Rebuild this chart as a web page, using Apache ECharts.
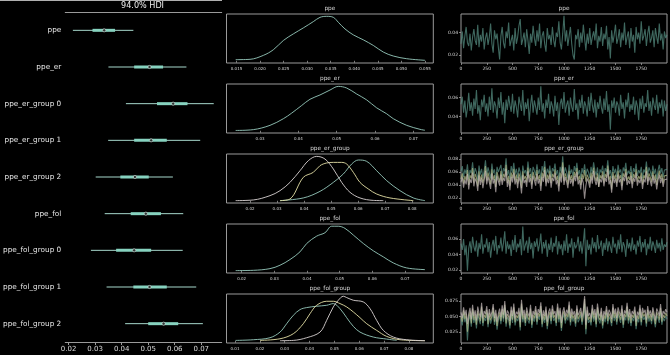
<!DOCTYPE html>
<html><head><meta charset="utf-8">
<script src="https://cdn.jsdelivr.net/npm/echarts@6/dist/echarts.min.js"></script>
<style>html,body{margin:0;padding:0;background:#000}#c{width:670px;height:355px}</style>
</head><body><div id="c"></div>
<script>
// ---------- forest plot data ----------
const forestLabels = ['ppe','ppe_er','ppe_er_group 0','ppe_er_group 1','ppe_er_group 2','ppe_fol','ppe_fol_group 0','ppe_fol_group 1','ppe_fol_group 2'];
const hdiLow   = [0.0216,0.0350,0.0416,0.0349,0.0302,0.0336,0.0284,0.0343,0.0413];
const hdiHigh  = [0.0444,0.0644,0.0747,0.0696,0.0593,0.0632,0.0630,0.0681,0.0706];
const quartLow = [0.0290,0.0447,0.0533,0.0447,0.0395,0.0434,0.0379,0.0444,0.0500];
const quartHigh= [0.0375,0.0556,0.0648,0.0570,0.0502,0.0548,0.0511,0.0570,0.0613];
const medians  = [0.0334,0.0505,0.0594,0.0511,0.0450,0.0491,0.0447,0.0505,0.0558];
const forestTicks = ['0.02','0.03','0.04','0.05','0.06','0.07'];

// ---------- density (KDE) data ----------
const densTitles = ['ppe','ppe_er','ppe_er_group','ppe_fol','ppe_fol_group'];
const kdePpeX = [0.01483,0.01787,0.02070,0.02282,0.02494,0.02706,0.02918,0.03130,0.03272,0.03413,0.03555,0.03661,0.03802,0.03979,0.04191,0.04404,0.04616,0.04828,0.05111,0.05500];
const kdePpeY = [2.0,2.6,9.7,19.8,36.4,48.3,59.0,70.3,78.0,79.8,78.0,69.1,57.2,46.5,37.6,27.5,15.6,8.5,3.7,0.8];
const kdeErX = [0.02364,0.02825,0.03260,0.03608,0.03825,0.04086,0.04303,0.04564,0.04825,0.05042,0.05260,0.05521,0.05782,0.06043,0.06303,0.06477,0.06825,0.07173,0.07303];
const kdeErY = [0.4,1.4,6.7,14.9,21.8,31.2,38.9,44.2,50.3,54.8,52.8,45.4,38.1,28.3,21.0,14.9,6.7,1.8,0.6];
const kdeErG0X = [0.03109,0.03972,0.04589,0.05082,0.05452,0.05760,0.06007,0.06315,0.06685,0.07055,0.07548,0.08041,0.08473];
const kdeErG0Y = [0.2,3.8,12.7,24.8,36.1,49.5,54.9,53.1,40.5,27.1,13.6,3.8,0.2];
const kdeErG1X = [0.03109,0.03479,0.03972,0.04342,0.04589,0.04835,0.05082,0.05390,0.05575,0.05822,0.06068,0.06377,0.06685,0.07178,0.08041];
const kdeErG1Y = [0.2,2.4,31.6,38.3,47.3,50.9,51.7,51.7,49.5,38.3,24.8,15.9,9.1,3.8,0.2];
const kdeErG2X = [0.01469,0.02123,0.02739,0.03109,0.03479,0.03849,0.04157,0.04465,0.04774,0.05082,0.05390,0.05699,0.06068,0.06562,0.06931];
const kdeErG2Y = [0.2,1.1,6.9,13.6,24.8,40.5,54.0,59.8,56.2,42.8,24.8,11.4,3.8,0.5,0.2];
const kdeFolX = [0.01816,0.02357,0.02867,0.03173,0.03479,0.03785,0.03990,0.04296,0.04551,0.04755,0.04959,0.05163,0.05418,0.05725,0.06031,0.06337,0.06643,0.07052,0.07613];
const kdeFolY = [0.2,0.5,2.4,6.2,12.6,21.2,30.6,38.9,42.7,50.0,50.0,47.6,40.1,30.6,22.4,15.6,8.8,3.2,1.3];
const kdeFolG0X = [0.01027,0.01738,0.02409,0.02811,0.03079,0.03347,0.03616,0.03884,0.04287,0.04689,0.04957,0.05225,0.05494,0.05762,0.06030,0.06567,0.07103,0.07506];
const kdeFolG0Y = [0.5,1.4,4.1,11.7,23.0,34.3,42.0,44.7,46.5,47.8,50.1,43.3,31.1,19.4,11.7,5.0,2.3,0.5];
const kdeFolG1X = [0.02006,0.02811,0.03347,0.03750,0.04018,0.04287,0.04689,0.04957,0.05225,0.05494,0.05762,0.06030,0.06299,0.06701,0.07103,0.07640,0.08646];
const kdeFolG1Y = [0.5,2.7,9.5,23.0,36.5,47.8,53.2,53.2,50.1,45.6,38.8,31.1,23.0,14.0,5.9,1.4,0.1];
const kdeFolG2X = [0.02811,0.03347,0.03884,0.04421,0.04689,0.04957,0.05158,0.05359,0.05494,0.05762,0.06164,0.06433,0.06701,0.06969,0.07372,0.07908,0.08646];
const kdeFolG2Y = [0.1,0.5,4.1,11.7,27.5,45.6,54.6,60.0,58.2,54.6,52.3,43.3,27.5,14.0,5.0,1.4,0.1];
const densTicks = [
  ['0.015','0.020','0.025','0.030','0.035','0.040','0.045','0.050','0.055'],
  ['0.03','0.04','0.05','0.06','0.07'],
  ['0.02','0.03','0.04','0.05','0.06','0.07','0.08'],
  ['0.02','0.03','0.04','0.05','0.06','0.07'],
  ['0.01','0.02','0.03','0.04','0.05','0.06','0.07','0.08']
];

// ---------- trace data (thinned draws, one value per 12.5 draws) ----------
const drawStep = 12.5;
const tracePpe = [
.030,.041,.026,.037,.045,.031,.028,.039,.024,.036,
.043,.033,.029,.047,.027,.038,.032,.044,.025,.035,
.040,.029,.036,.048,.030,.022,.042,.034,.039,.027,
.016,.037,.045,.031,.026,.041,.035,.049,.028,.033,
.038,.024,.044,.030,.036,.046,.052,.029,.034,.040,
.027,.043,.033,.021,.039,.031,.046,.035,.028,.042,
.032,.048,.026,.037,.041,.030,.023,.044,.034,.038,
.029,.045,.033,.027,.040,.036,.050,.031,.025,.039,
.055,.032,.042,.028,.037,.045,.030,.020,.016,.038,
.034,.043,.027,.040,.031,.047,.035,.024,.039,.030,
.044,.029,.036,.041,.033,.048,.026,.037,.032,.045,
.028,.039,.034,.046,.025,.036,.017,.042,.031,.038,
.047,.030,.035,.043,.027,.040,.033,.049,.029,.036,
.041,.026,.044,.032,.038,.022,.045,.034,.040,.030,
.050,.033,.037,.043,.028,.039,.046,.031,.035,.042,
.027,.044,.036,.030,.048,.033,.039,.025,.041,.035,
.038];
const tracePpeEr = [
.053,.061,.044,.057,.039,.049,.065,.046,.055,.041,
.059,.048,.068,.043,.052,.036,.058,.050,.063,.045,
.054,.040,.061,.047,.070,.044,.056,.051,.038,.060,
.049,.066,.042,.055,.033,.058,.047,.062,.052,.045,
.064,.043,.057,.050,.039,.061,.053,.046,.068,.041,
.055,.048,.059,.035,.052,.063,.044,.057,.050,.042,
.060,.047,.072,.045,.054,.038,.058,.049,.064,.043,
.056,.051,.040,.062,.046,.055,.031,.053,.059,.048,
.066,.044,.052,.057,.041,.060,.050,.045,.069,.047,
.054,.037,.058,.049,.063,.043,.056,.051,.040,.061,
.046,.065,.052,.044,.058,.039,.055,.048,.062,.050,
.043,.059,.047,.067,.045,.053,.026,.057,.049,.060,
.044,.056,.052,.041,.063,.048,.055,.038,.058,.050,
.065,.045,.053,.047,.061,.042,.057,.051,.036,.059,
.048,.062,.044,.054,.050,.068,.046,.056,.041,.060,
.052,.047,.063,.043,.055,.049,.058,.040,.057,.046,
.053];
const traceErG0 = [
.061,.069,.052,.064,.057,.072,.049,.063,.058,.075,
.054,.066,.060,.047,.070,.056,.065,.051,.062,.078,
.055,.067,.059,.050,.073,.058,.064,.046,.068,.060,
.057,.071,.053,.066,.061,.081,.055,.063,.049,.069,
.059,.074,.056,.065,.051,.067,.060,.044,.070,.058,
.063,.054,.076,.059,.066,.050,.068,.062,.055,.072,
.057,.064,.048,.069,.060,.077,.053,.065,.058,.070,
.052,.066,.061,.073,.056,.063,.047,.068,.059,.084,
.055,.067,.060,.050,.071,.057,.064,.053,.069,.061,
.074,.056,.063,.049,.066,.058,.072,.054,.065,.060,
.051,.068,.057,.075,.062,.055,.067,.046,.064,.059,
.070,.053,.066,.060,.078,.056,.063,.050,.069,.058,
.065,.052,.071,.059,.064,.048,.067,.061,.074,.055,
.062,.057,.069,.051,.066,.060,.073,.054,.063,.058,
.068,.050,.064,.059,.076,.055,.067,.061,.053,.070,
.057,.065,.049,.062,.071,.058,.066,.052,.063,.060,
.064];
const traceErG1 = [
.049,.058,.042,.054,.047,.063,.040,.055,.050,.066,
.044,.057,.051,.038,.061,.046,.056,.043,.053,.069,
.047,.059,.050,.041,.064,.048,.055,.037,.060,.052,
.045,.062,.046,.057,.052,.071,.043,.054,.039,.059,
.050,.065,.047,.056,.042,.058,.051,.035,.061,.049,
.054,.044,.067,.050,.057,.041,.060,.053,.046,.063,
.048,.055,.039,.059,.051,.068,.044,.056,.049,.062,
.043,.057,.052,.064,.047,.054,.038,.059,.050,.075,
.046,.058,.051,.041,.062,.048,.055,.044,.060,.052,
.066,.047,.054,.040,.057,.049,.063,.045,.056,.051,
.042,.059,.048,.067,.053,.046,.058,.037,.055,.050,
.061,.044,.057,.051,.070,.047,.054,.033,.060,.049,
.056,.043,.062,.050,.055,.039,.058,.052,.065,.046,
.053,.048,.060,.042,.057,.051,.064,.045,.054,.049,
.059,.041,.055,.050,.068,.046,.058,.052,.044,.061,
.048,.056,.040,.053,.062,.049,.057,.043,.054,.051,
.055];
const traceErG2 = [
.044,.052,.036,.048,.041,.057,.033,.049,.043,.059,
.038,.050,.045,.031,.055,.040,.051,.035,.047,.062,
.041,.053,.044,.034,.058,.042,.049,.029,.054,.046,
.039,.056,.040,.051,.046,.065,.037,.048,.032,.053,
.044,.059,.041,.050,.035,.052,.045,.027,.055,.043,
.048,.037,.061,.044,.051,.034,.054,.047,.039,.057,
.042,.049,.031,.053,.045,.063,.038,.050,.043,.056,
.036,.051,.046,.058,.041,.048,.030,.053,.044,.068,
.040,.052,.045,.035,.056,.042,.049,.038,.054,.046,
.060,.041,.048,.033,.051,.043,.019,.039,.050,.045,
.036,.053,.042,.062,.047,.040,.052,.037,.049,.044,
.055,.038,.051,.045,.064,.041,.048,.028,.054,.043,
.050,.037,.056,.044,.049,.032,.052,.046,.059,.040,
.047,.042,.054,.035,.051,.045,.058,.039,.048,.043,
.053,.034,.049,.044,.061,.040,.052,.046,.038,.055,
.042,.050,.033,.047,.056,.043,.051,.037,.048,.045,
.049];
const tracePpeFol = [
.054,.046,.060,.039,.052,.019,.048,.057,.042,.063,
.050,.044,.058,.037,.055,.047,.066,.041,.053,.049,
.061,.043,.056,.036,.051,.059,.045,.064,.040,.052,
.048,.062,.044,.055,.070,.041,.057,.047,.053,.038,
.059,.046,.065,.043,.054,.049,.060,.039,.076,.045,
.052,.058,.042,.063,.047,.055,.035,.057,.050,.061,
.044,.053,.067,.041,.056,.048,.059,.037,.054,.046,
.062,.043,.055,.050,.064,.040,.057,.047,.053,.039,
.058,.045,.066,.042,.054,.049,.061,.036,.056,.048,
.052,.063,.044,.057,.041,.055,.074,.025,.059,.046,
.053,.040,.062,.048,.056,.043,.065,.047,.051,.058,
.038,.055,.046,.061,.044,.057,.050,.042,.063,.049,
.054,.041,.059,.047,.066,.043,.056,.051,.037,.060,
.048,.055,.044,.062,.046,.053,.040,.058,.050,.064,
.043,.056,.049,.060,.039,.054,.047,.063,.045,.057,
.051,.042,.059,.048,.055,.044,.061,.046,.053,.050,
.056];
const traceFolG0 = [
.047,.036,.055,.041,.050,.012,.043,.053,.034,.058,
.040,.049,.031,.054,.045,.038,.061,.035,.048,.043,
.056,.033,.051,.039,.046,.059,.037,.050,.029,.044,
.052,.038,.057,.042,.064,.034,.049,.045,.031,.055,
.040,.060,.036,.047,.043,.053,.028,.066,.041,.050,
.035,.054,.044,.039,.058,.032,.048,.042,.056,.037,
.051,.045,.062,.033,.049,.040,.055,.030,.046,.052,
.038,.057,.043,.048,.035,.060,.041,.053,.027,.047,
.054,.039,.050,.044,.063,.036,.052,.042,.048,.034,
.057,.041,.046,.053,.037,.049,.070,.022,.055,.040,
.045,.036,.058,.042,.051,.033,.060,.044,.039,.053,
.031,.048,.041,.056,.038,.050,.045,.035,.059,.043,
.052,.037,.054,.046,.040,.057,.032,.049,.044,.061,
.039,.051,.035,.048,.043,.055,.030,.047,.041,.058,
.036,.053,.045,.050,.034,.056,.042,.049,.038,.054,
.044,.033,.052,.047,.040,.059,.037,.048,.043,.051,
.046];
const traceFolG1 = [
.051,.042,.060,.046,.055,.026,.048,.058,.039,.063,
.045,.054,.037,.059,.050,.043,.066,.040,.053,.048,
.061,.038,.056,.044,.051,.064,.042,.055,.035,.049,
.057,.043,.062,.047,.069,.039,.054,.050,.036,.060,
.045,.065,.041,.052,.048,.058,.033,.071,.046,.055,
.040,.059,.049,.044,.063,.037,.053,.047,.061,.042,
.056,.050,.067,.038,.054,.045,.060,.035,.051,.057,
.043,.062,.048,.053,.040,.065,.046,.058,.032,.052,
.059,.044,.055,.049,.068,.041,.057,.047,.053,.039,
.062,.046,.051,.058,.042,.054,.078,.030,.060,.045,
.050,.041,.063,.047,.056,.038,.065,.049,.044,.058,
.036,.053,.046,.061,.043,.055,.050,.040,.064,.048,
.057,.042,.059,.051,.045,.062,.037,.054,.049,.066,
.044,.056,.040,.053,.048,.060,.035,.052,.046,.063,
.041,.058,.050,.055,.039,.061,.047,.054,.043,.059,
.049,.038,.057,.052,.045,.064,.042,.053,.048,.056,
.051];
const traceFolG2 = [
.057,.048,.065,.052,.061,.038,.055,.064,.046,.069,
.051,.060,.044,.066,.056,.049,.072,.047,.059,.054,
.067,.045,.062,.050,.057,.070,.048,.061,.042,.055,
.063,.049,.068,.053,.075,.046,.060,.056,.043,.066,
.051,.071,.047,.058,.054,.064,.041,.077,.052,.061,
.046,.065,.055,.050,.069,.044,.059,.053,.067,.048,
.062,.056,.073,.045,.060,.051,.066,.042,.057,.063,
.049,.068,.054,.059,.047,.071,.052,.064,.040,.058,
.065,.050,.061,.055,.074,.048,.063,.053,.059,.046,
.068,.052,.057,.064,.049,.060,.083,.037,.066,.051,
.056,.047,.069,.053,.062,.045,.071,.055,.050,.064,
.043,.059,.052,.067,.049,.061,.056,.046,.070,.054,
.063,.048,.065,.057,.051,.068,.044,.060,.055,.072,
.050,.062,.047,.059,.054,.066,.042,.058,.052,.069,
.048,.064,.056,.061,.045,.067,.053,.060,.049,.065,
.055,.044,.063,.058,.051,.070,.048,.059,.054,.062,
.057];
const traceXTicks = ['0','250','500','750','1000','1250','1500','1750'];
const traceYTicks = [
  ['0.02','0.04'],
  ['0.04','0.06'],
  ['0.02','0.04','0.06','0.08'],
  ['0.02','0.04','0.06'],
  ['0.025','0.050','0.075']
];

// ---------- layout / style ----------
const FONT = 'DejaVu Sans';
const BG = '#000';
const SPINE = '#9a9a9a';
const TXT = '#d8d8d8';
const C0 = '#96c9bc', C1 = '#e4e0a6', C2 = '#d9d2d2';
const T0 = '#5a9487', T1 = '#bcc68e', T2 = '#cbbfbf';
const panelTops = [14, 84, 154, 224, 294];
const panelH = 49;
const densLeft = 226.5, densW = 206.8;
const trLeft = 461, trW = 206;
const densRange = [[0.01288,0.05676],[0.02125,0.0752],[0.0113,0.0878],[0.01535,0.07867],[0.00658,0.0898]];
const densPeak = [80,55,60,50,60];
const traceRange = [[0.0129,0.0565],[0.0226,0.0744],[0.0123,0.0877],[0.0161,0.0794],[0.0079,0.0862]];

const densCurves = [
  [[kdePpeX,kdePpeY,C0]],
  [[kdeErX,kdeErY,C0]],
  [[kdeErG0X,kdeErG0Y,C0],[kdeErG1X,kdeErG1Y,C1],[kdeErG2X,kdeErG2Y,C2]],
  [[kdeFolX,kdeFolY,C0]],
  [[kdeFolG0X,kdeFolG0Y,C0],[kdeFolG1X,kdeFolG1Y,C1],[kdeFolG2X,kdeFolG2Y,C2]]
];
const traceChains = [
  [[tracePpe,T0]],
  [[tracePpeEr,T0]],
  [[traceErG0,T0],[traceErG1,T1],[traceErG2,T2]],
  [[tracePpeFol,T0]],
  [[traceFolG0,T0],[traceFolG1,T1],[traceFolG2,T2]]
];

function decimals(s){ return s.split('.')[1] ? s.split('.')[1].length : 0; }

const grids = [], xAxes = [], yAxes = [], series = [], graphics = [];

// forest grid 0
grids.push({left:63.3, top:12, width:158.4, height:330, show:false});
xAxes.push({type:'value', gridIndex:0, position:'bottom', min:0.01873, max:0.0777,
  axisLine:{show:true, lineStyle:{color:SPINE, width:1}},
  axisTick:{show:true, length:3, customValues:forestTicks.map(Number), lineStyle:{color:SPINE}},
  axisLabel:{show:true, customValues:forestTicks.map(Number), formatter:v=>v.toFixed(2), color:TXT, fontSize:7, fontFamily:FONT, margin:3.5},
  splitLine:{show:false}});
xAxes.push({type:'value', gridIndex:0, position:'top', min:0.01873, max:0.0777,
  axisLine:{show:true, lineStyle:{color:SPINE, width:1}}, axisTick:{show:false}, axisLabel:{show:false}, splitLine:{show:false}});
yAxes.push({type:'category', gridIndex:0, data:forestLabels, inverse:true,
  axisLine:{show:false}, axisTick:{show:false},
  axisLabel:{interval:0, color:'#e6e6e6', fontSize:7.3, fontFamily:FONT, margin:4}});

function intervalSeries(lo, hi, width, color){
  return {type:'custom', xAxisIndex:0, yAxisIndex:0, silent:true,
    data: forestLabels.map((n,i)=>[lo[i], i, hi[i]]),
    encode:{x:[0,2], y:1},
    renderItem:(params, api)=>{
      const a = api.coord([api.value(0), api.value(1)]);
      const b = api.coord([api.value(2), api.value(1)]);
      return {type:'line', shape:{x1:a[0], y1:a[1], x2:b[0], y2:b[1]}, style:{stroke:color, lineWidth:width}};
    }};
}
series.push(intervalSeries(hdiLow, hdiHigh, 1, '#a6d8cc'));
series.push(intervalSeries(quartLow, quartHigh, 3, '#86d2bf'));
series.push({type:'scatter', xAxisIndex:0, yAxisIndex:0, symbol:'circle', symbolSize:3.2,
  data: medians.map((m,i)=>[m,i]),
  itemStyle:{color:'#111', borderColor:'#e8e8e8', borderWidth:0.7}});

// density panels
for (let p=0;p<5;p++){
  const gi = grids.length;
  grids.push({left:densLeft, top:panelTops[p], width:densW, height:panelH, show:true, borderColor:SPINE, borderWidth:1, backgroundColor:'transparent'});
  const t = densTicks[p], d = decimals(t[0]);
  const xi = xAxes.length, yi = yAxes.length;
  xAxes.push({type:'value', gridIndex:gi, min:densRange[p][0], max:densRange[p][1],
    axisLine:{show:false}, splitLine:{show:false},
    axisTick:{show:true, length:2, customValues:t.map(Number), lineStyle:{color:SPINE, width:0.8}},
    axisLabel:{show:true, customValues:t.map(Number), formatter:v=>v.toFixed(d), color:TXT, fontSize:4, fontFamily:FONT, margin:3.5}});
  yAxes.push({type:'value', gridIndex:gi, min:-0.05*densPeak[p], max:1.05*densPeak[p], show:false, splitLine:{show:false}});
  densCurves[p].forEach(([xs,ys,col])=>{
    series.push({type:'line', xAxisIndex:xi, yAxisIndex:yi, smooth:0.35, showSymbol:false, silent:true,
      data: xs.map((x,k)=>[x, ys[k]]), lineStyle:{color:col, width:0.9}});
  });
  graphics.push({type:'text', x:densLeft+densW/2, y:panelTops[p]-5.5,
    style:{text:densTitles[p], fill:TXT, font:'5.8px "DejaVu Sans"', textAlign:'center', textVerticalAlign:'middle', align:'center', verticalAlign:'middle'}});
}

// trace panels
for (let p=0;p<5;p++){
  const gi = grids.length;
  grids.push({left:trLeft, top:panelTops[p], width:trW, height:panelH, show:true, borderColor:SPINE, borderWidth:1, backgroundColor:'transparent'});
  const xi = xAxes.length, yi = yAxes.length;
  const yt = traceYTicks[p], d = decimals(yt[0]);
  xAxes.push({type:'value', gridIndex:gi, min:0, max:2000,
    axisLine:{show:false}, splitLine:{show:false},
    axisTick:{show:true, length:2, customValues:traceXTicks.map(Number), lineStyle:{color:SPINE, width:0.8}},
    axisLabel:{show:true, customValues:traceXTicks.map(Number), formatter:v=>String(v), color:TXT, fontSize:4.5, fontFamily:FONT, margin:3.5}});
  yAxes.push({type:'value', gridIndex:gi, min:traceRange[p][0], max:traceRange[p][1],
    axisLine:{show:false}, splitLine:{show:false},
    axisTick:{show:true, length:2, customValues:yt.map(Number), lineStyle:{color:SPINE, width:0.8}},
    axisLabel:{show:true, customValues:yt.map(Number), formatter:v=>v.toFixed(d), color:TXT, fontSize:4.5, fontFamily:FONT, margin:3}});
  traceChains[p].forEach(([vals,col])=>{
    series.push({type:'line', xAxisIndex:xi, yAxisIndex:yi, showSymbol:false, silent:true,
      data: vals.map((v,k)=>[k*drawStep, v]), lineStyle:{color:col, width:1.1, opacity:0.7}});
  });
  graphics.push({type:'text', x:trLeft+trW/2, y:panelTops[p]-5.5,
    style:{text:densTitles[p], fill:TXT, font:'5.8px "DejaVu Sans"', textAlign:'center', textVerticalAlign:'middle', align:'center', verticalAlign:'middle'}});
}

// forest title and top rule
graphics.push({type:'text', x:142.5, y:5.5,
  style:{text:'94.0% HDI', fill:'#eeeeee', font:'8.1px "DejaVu Sans"', textAlign:'center', textVerticalAlign:'middle', align:'center', verticalAlign:'middle'}});
graphics.push({type:'line', shape:{x1:0, y1:0.5, x2:222, y2:0.5}, style:{stroke:'#b0b0b0', lineWidth:1}});

const chart = echarts.init(document.getElementById('c'), null, {renderer:'canvas'});
chart.setOption({
  backgroundColor:BG, animation:false,
  textStyle:{fontFamily:FONT},
  grid:grids, xAxis:xAxes, yAxis:yAxes, series:series, graphic:graphics
});
</script></body></html>
